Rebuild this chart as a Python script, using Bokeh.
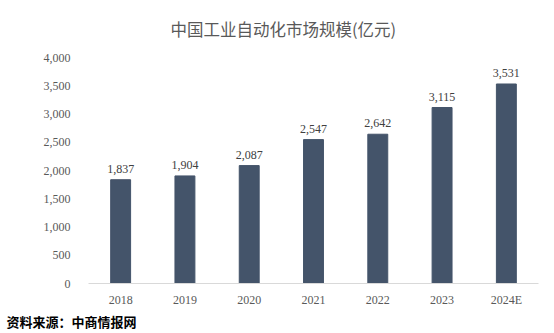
from bokeh.plotting import figure
from bokeh.models import ColumnDataSource, NumeralTickFormatter, Title, FixedTicker
from bokeh.core.properties import value
from bokeh.embed import file_html
from bokeh.resources import INLINE

years = ["2018", "2019", "2020", "2021", "2022", "2023", "2024E"]
sizes = [1837, 1904, 2087, 2547, 2642, 3115, 3531]
labels = ["1,837", "1,904", "2,087", "2,547", "2,642", "3,115", "3,531"]
y_ticks = [0, 500, 1000, 1500, 2000, 2500, 3000, 3500, 4000]
title_text = "中国工业自动化市场规模(亿元)"
source_text = "资料来源：中商情报网"

src = ColumnDataSource(dict(x=years, top=sizes, label=labels))

p = figure(x_range=years, y_range=(0, 4000), width=554, height=333,
           output_backend="svg", toolbar_location=None,
           min_border_left=88, min_border_right=16, min_border_top=57, min_border_bottom=50)
p.background_fill_color = "white"
p.border_fill_color = "white"
p.outline_line_color = None
p.grid.grid_line_color = None
p.x_range.range_padding = 0

p.vbar(x="x", top="top", width=0.31, color="#44546A", source=src)
p.text(x="x", y="top", text="label", source=src, text_align="center", text_baseline="bottom",
       y_offset=-7, text_font=value("Liberation Serif"), text_font_size="12px", text_color="#404040")

p.yaxis.ticker = FixedTicker(ticks=y_ticks)
p.yaxis.formatter = NumeralTickFormatter(format="0,0")
p.yaxis.axis_line_color = None
p.yaxis.major_tick_line_color = None
p.yaxis.minor_tick_line_color = None
p.yaxis.major_label_text_font = "Liberation Serif"
p.yaxis.major_label_text_font_size = "12px"
p.yaxis.major_label_text_color = "#595959"
p.yaxis.major_label_standoff = 12

p.xaxis.axis_line_color = "#D9D9D9"
p.xaxis.major_tick_line_color = None
p.xaxis.minor_tick_line_color = None
p.xaxis.major_label_text_font = "Liberation Serif"
p.xaxis.major_label_text_font_size = "12px"
p.xaxis.major_label_text_color = "#595959"
p.xaxis.major_label_standoff = 3

p.title = Title(text=title_text, align="left", offset=82, standoff=10,
                text_font="Noto Sans CJK SC", text_font_size="16.5px", text_color="#595959",
                text_font_style="normal")
p.add_layout(Title(text=" ", text_font_size="8.5px", standoff=0), "above")
p.add_layout(Title(text=source_text, align="left", offset=-82, standoff=0,
                   text_font="Noto Sans CJK SC", text_font_size="13px", text_color="#000000",
                   text_font_style="bold"), "below")

open("out.html", "w").write(file_html(p, INLINE))
